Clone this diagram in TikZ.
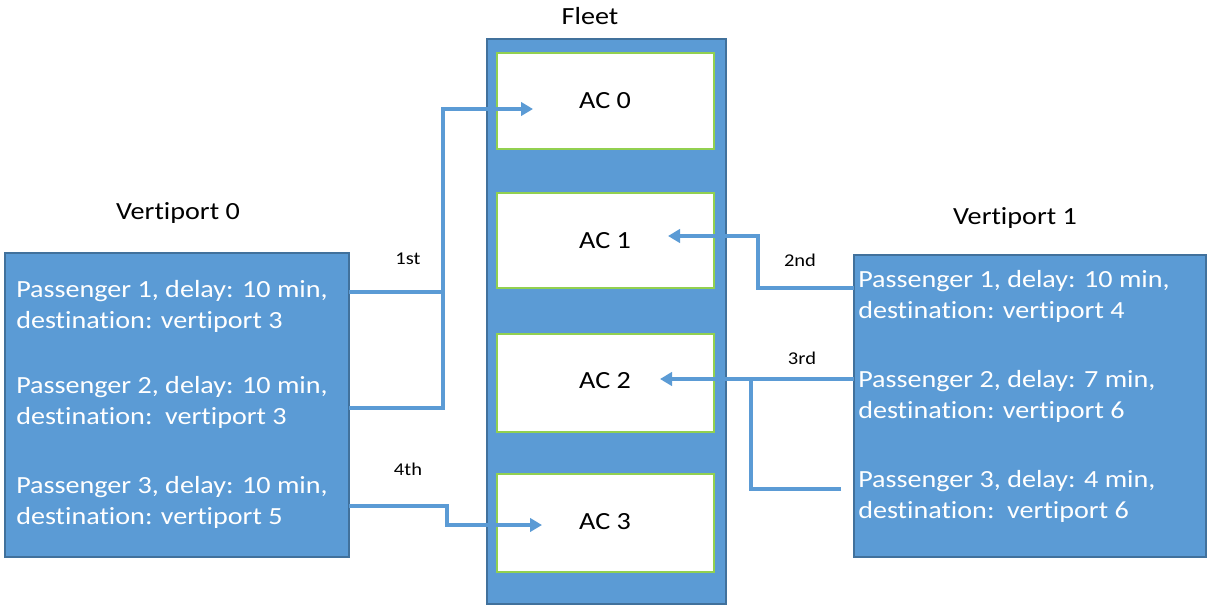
\documentclass[tikz,border=0pt]{standalone}
\usepackage{fontspec}
\setmainfont{Carlito}[FakeStretch=1.14, Ligatures=NoCommon]
\usetikzlibrary{arrows.meta}
\definecolor{boxblue}{HTML}{5B9BD5}
\definecolor{boxedge}{HTML}{41719C}
\definecolor{acedge}{HTML}{92D050}
\tikzset{
  bluebox/.style={draw=boxedge, line width=0.8pt, fill=boxblue},
  acbox/.style={draw=acedge, line width=0.8pt, fill=white},
  paxtext/.style={text=white, font=\fontsize{18.5}{23.25}\selectfont, align=left, inner sep=0pt, anchor=west},
  title/.style={font=\fontsize{18.5}{22}\selectfont, inner sep=0pt},
  actext/.style={font=\fontsize{18.5}{22}\selectfont, inner sep=0pt},
  ordtext/.style={font=\fontsize{13.5}{16}\selectfont, inner sep=0pt},
  conn/.style={draw=boxblue, line width=2.4pt},
  arr/.style={conn, -{Triangle[length=9pt, width=10pt]}}
}
\begin{document}
\begin{tikzpicture}[x=0.75pt, y=-0.75pt]
\useasboundingbox (0,0) rectangle (1207,607);
% fleet
\node[bluebox, minimum width=239*0.75pt, minimum height=565*0.75pt, inner sep=0pt] (fleet) at (606.5,321.5) {};
\node[title] (fleetlbl) at (590,16) {Fleet};
\node[acbox, minimum width=217*0.75pt, minimum height=96*0.75pt, inner sep=0pt] (ac0) at (605.5,101) {};
\node[acbox, minimum width=217*0.75pt, minimum height=95*0.75pt, inner sep=0pt] (ac1) at (605.5,240.5) {};
\node[acbox, minimum width=217*0.75pt, minimum height=98*0.75pt, inner sep=0pt] (ac2) at (605.5,383) {};
\node[acbox, minimum width=217*0.75pt, minimum height=98*0.75pt, inner sep=0pt] (ac3) at (605.5,523) {};
\node[actext] (ac0t) at (605,101) {AC 0};
\node[actext] (ac1t) at (605,241) {AC 1};
\node[actext] (ac2t) at (605,381) {AC 2};
\node[actext] (ac3t) at (605,522) {AC 3};
% vertiport 0
\node[bluebox, minimum width=344*0.75pt, minimum height=304*0.75pt, inner sep=0pt] (v0) at (177,405) {};
\node[title] (v0lbl) at (178,213) {Vertiport 0};
\node[paxtext] (p01) at (16,306) {Passenger 1, delay: 10 min,\\destination: vertiport 3};
\node[paxtext] (p02) at (16,402) {Passenger 2, delay: 10 min,\\destination:\ \ vertiport 3};
\node[paxtext] (p03) at (16,502) {Passenger 3, delay: 10 min,\\destination: vertiport 5};
% vertiport 1
\node[bluebox, minimum width=352*0.75pt, minimum height=302*0.75pt, inner sep=0pt] (v1) at (1030,406) {};
\node[title] (v1lbl) at (1015,218) {Vertiport 1};
\node[paxtext] (p11) at (858,296) {Passenger 1, delay: 10 min,\\destination: vertiport 4};
\node[paxtext] (p12) at (858,396) {Passenger 2, delay: 7 min,\\destination: vertiport 6};
\node[paxtext] (p13) at (858,496) {Passenger 3, delay: 4 min,\\destination:\ \ vertiport 6};
% order labels
\node[ordtext] (o1) at (408,259) {1st};
\node[ordtext] (o2) at (800,260) {2nd};
\node[ordtext] (o3) at (802,358) {3rd};
\node[ordtext] (o4) at (408,469) {4th};
% connector points
\coordinate (a01) at (349,292);
\coordinate (a02) at (349,408);
\coordinate (a03) at (349,506);
\coordinate (a11) at (854,288);
\coordinate (a12) at (854,379);
\coordinate (a13) at (841,489);
\coordinate (t0) at (533,109);
\coordinate (t1) at (668,236);
\coordinate (t2) at (660,379);
\coordinate (t3) at (542,525);
% connectors
\draw[conn] (a01) -- (443,292);
\draw[arr] (a02) -- (443,408) -- (443,109) -- (t0);
\draw[arr] (a11) -- (758,288) -- (758,236) -- (t1);
\draw[arr] (a12) -- (t2);
\draw[conn] (a13) -- (751,489) -- (751,379);
\draw[arr] (a03) -- (447,506) -- (447,525) -- (t3);
\end{tikzpicture}
\end{document}
